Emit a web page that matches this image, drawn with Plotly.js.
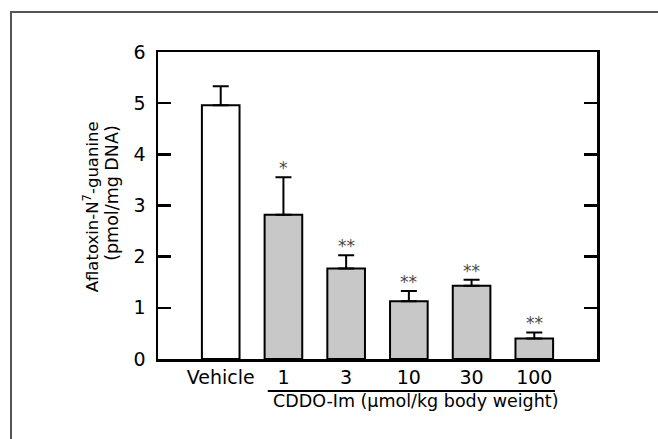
<!DOCTYPE html>
<html>
<head>
<meta charset="utf-8">
<script src="https://cdn.plot.ly/plotly-3.0.1.min.js"></script>
<style>
  html, body { margin: 0; padding: 0; background: #fff; }
  #wrap { position: relative; width: 658px; height: 439px; overflow: hidden; }
  #frame { position: absolute; left: 10px; top: 11px; width: 660px; height: 440px;
           border-left: 2px solid #555; border-top: 2px solid #555; }
  #chart { position: absolute; left: 0; top: 0; width: 658px; height: 439px; }
</style>
</head>
<body>
<div id="wrap">
  <div id="frame"></div>
  <div id="chart"></div>
</div>
<script>
// ---- data ----
const categories = ['Vehicle', '1', '3', '10', '30', '100'];
const values = [4.96, 2.82, 1.77, 1.13, 1.43, 0.40];
const errors = [0.37, 0.73, 0.26, 0.20, 0.12, 0.12];
const significance = ['', '*', '**', '**', '**', '**'];
const yTicks = [0, 1, 2, 3, 4, 5, 6];
const yTitleLines = ['Aflatoxin-N<sup>7</sup>-guanine', '(pmol/mg DNA)'];
const groupLabel = 'CDDO-Im (\u00b5mol/kg body weight)';

// ---- build ----
const xIdx = categories.map((c, i) => i);
const fills = categories.map((c, i) => i === 0 ? '#ffffff' : '#c8c8c8');
const FONT = 'DejaVu Sans, Verdana, sans-serif';

const trace = {
  type: 'bar',
  x: xIdx,
  y: values,
  width: 0.6,
  marker: { color: fills, line: { color: '#000', width: 2 } },
  error_y: {
    type: 'data', symmetric: false,
    array: errors, arrayminus: errors.map(() => 0),
    color: '#000', thickness: 2, width: 8
  },
  hoverinfo: 'none'
};

const annotations = [];
categories.forEach((c, i) => {
  if (significance[i]) {
    annotations.push({
      x: i, y: values[i] + errors[i], xref: 'x', yref: 'y',
      text: significance[i], showarrow: false,
      yanchor: 'bottom', yshift: -3,
      font: { family: FONT, size: 17, color: '#4a4a4a' }
    });
  }
});
// group label under the dose ticks
annotations.push({
  x: 3.11, y: -0.138, xref: 'x', yref: 'paper',
  text: groupLabel, showarrow: false, xanchor: 'center', yanchor: 'middle',
  font: { family: FONT, size: 17.5, color: '#000' }
});
// y-axis title, two rotated lines
annotations.push({
  x: -0.1505, y: 0.497, xref: 'paper', yref: 'paper',
  text: yTitleLines[0], showarrow: false, textangle: -90,
  xanchor: 'center', yanchor: 'middle',
  font: { family: FONT, size: 16.5, color: '#000' }
});
annotations.push({
  x: -0.105, y: 0.541, xref: 'paper', yref: 'paper',
  text: yTitleLines[1], showarrow: false, textangle: -90,
  xanchor: 'center', yanchor: 'middle',
  font: { family: FONT, size: 17.5, color: '#000' }
});

const layout = {
  width: 658, height: 439,
  margin: { l: 158, r: 61, t: 52, b: 80 },
  paper_bgcolor: 'rgba(0,0,0,0)',
  plot_bgcolor: 'rgba(0,0,0,0)',
  showlegend: false,
  font: { family: FONT, color: '#000' },
  xaxis: {
    range: [-1, 6],
    tickmode: 'array', tickvals: xIdx, ticktext: categories,
    ticks: '', showgrid: false, zeroline: false,
    showline: true, linecolor: '#000', linewidth: 2.5, mirror: true,
    ticklabelstandoff: 0,
    tickfont: { family: FONT, size: 19, color: '#000' }
  },
  yaxis: {
    range: [0, 6],
    tickmode: 'array', tickvals: yTicks, ticktext: yTicks.map(String),
    ticks: 'inside', ticklen: 13, tickwidth: 2.5, tickcolor: '#000',
    showgrid: false, zeroline: false,
    showline: true, linecolor: '#000', linewidth: 2.5, mirror: 'ticks',
    ticklabelstandoff: 6,
    tickfont: { family: FONT, size: 19, color: '#000' }
  },
  shapes: [{
    type: 'line', xref: 'x', yref: 'paper',
    x0: 1 - 0.25, x1: categories.length - 1 + 0.33,
    y0: -0.1044, y1: -0.1044,
    line: { color: '#000', width: 2 }
  }],
  annotations: annotations
};

Plotly.newPlot('chart', [trace], layout, { staticPlot: true, displayModeBar: false });
</script>
</body>
</html>
